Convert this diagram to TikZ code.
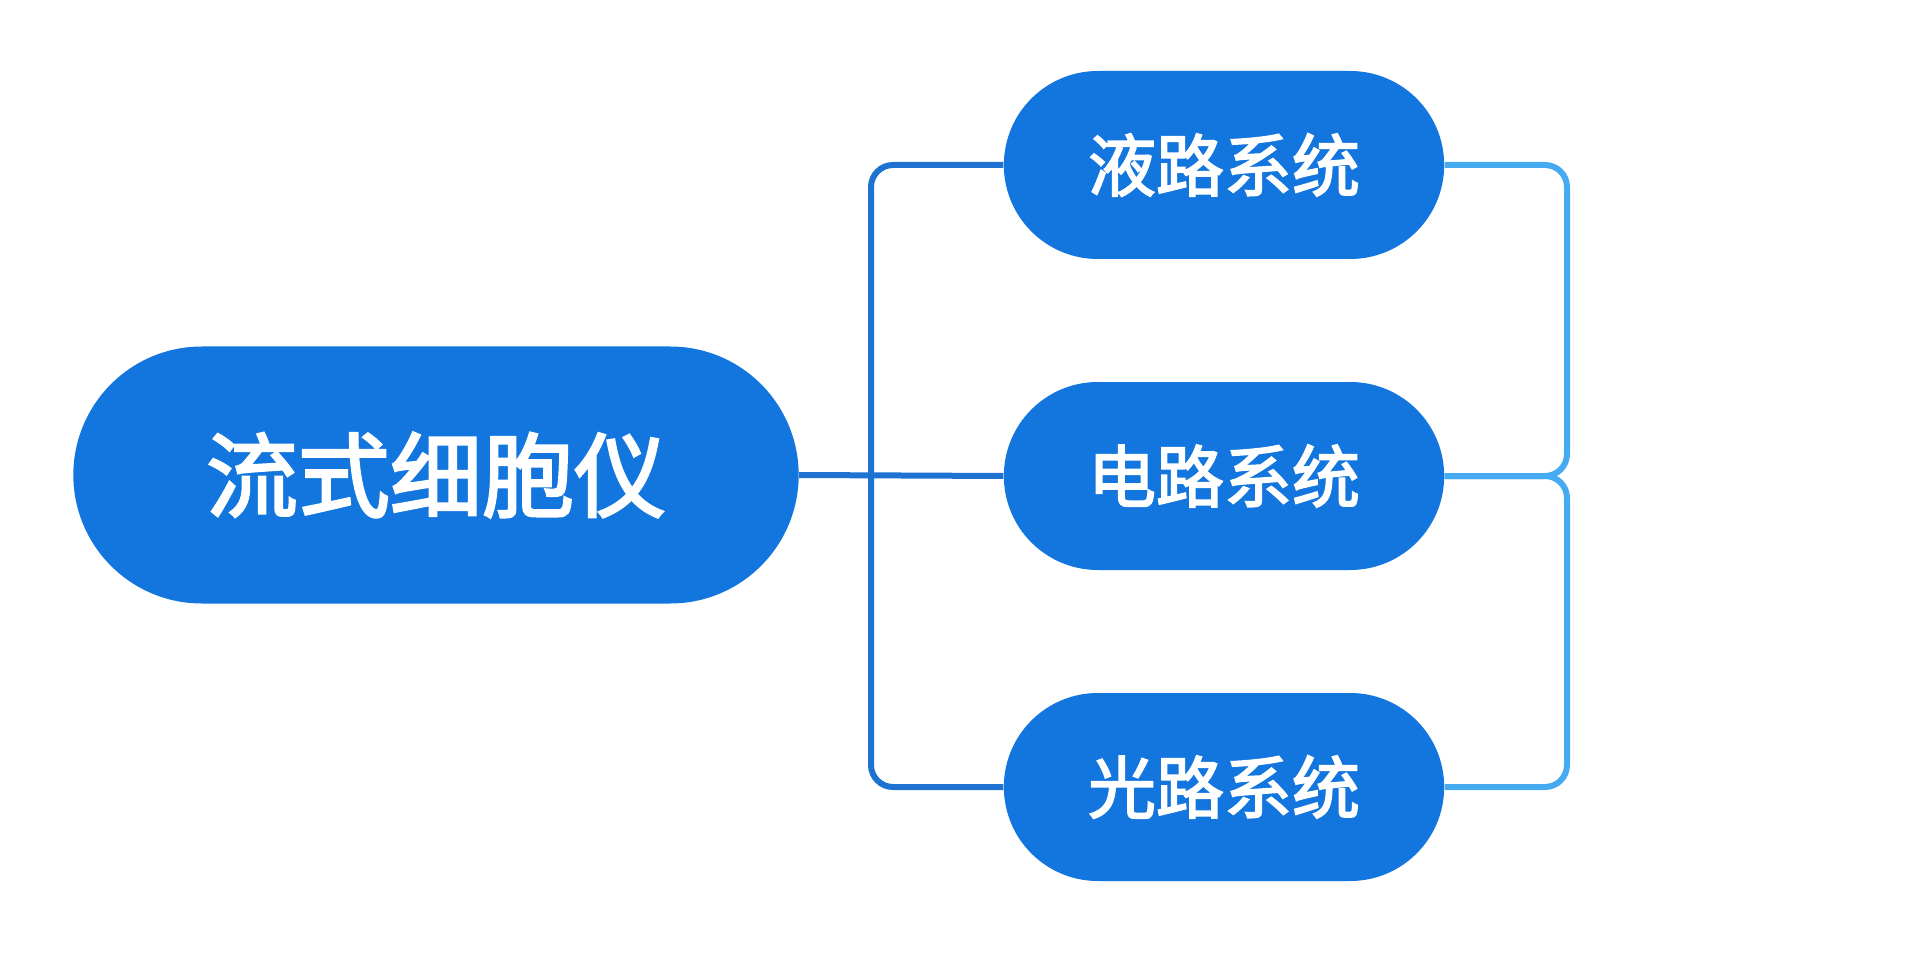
\documentclass[tikz,border=0pt]{standalone}
\usepackage{fontspec}
\usetikzlibrary{shapes.misc}
\newfontfamily\cjk{Noto Sans CJK SC}[AutoFakeBold=2.5]
\definecolor{pillblue}{RGB}{18,118,222}
\definecolor{linkblue}{RGB}{30,115,210}
\definecolor{lightlink}{RGB}{70,170,240}
\tikzset{every picture/.style={line width=0.75pt}}
\begin{document}
\begin{tikzpicture}[x=1pt,y=-1pt,
  pill/.style={rounded rectangle, fill=pillblue, text=white, font=\cjk\bfseries},
  link/.style={draw=linkblue, line width=6pt, rounded corners=22pt}]
\useasboundingbox (0,0) rectangle (1919,957);
\fill[white] (0,0) rectangle (1919,957);

% Main node
\node[pill, minimum width=732pt, minimum height=257pt, font=\cjk\bfseries\fontsize{92}{106}\selectfont] (main) at (436,475) {流式细胞仪};
% Child nodes
\node[pill, minimum width=447pt, minimum height=188pt, font=\cjk\bfseries\fontsize{68}{80}\selectfont] (liquid) at (1224,165) {液路系统};
\node[pill, minimum width=447pt, minimum height=188pt, font=\cjk\bfseries\fontsize{68}{80}\selectfont] (circuit) at (1224,476) {电路系统};
\node[pill, minimum width=447pt, minimum height=188pt, font=\cjk\bfseries\fontsize{68}{80}\selectfont] (optic) at (1224,787) {光路系统};

% Left bracket
\coordinate (bl) at (871,475);
\draw[link] (main.east) -- (circuit.west);
\draw[link] (liquid.west) -| (bl) |- (optic.west);

% Right bracket
\coordinate (br) at (1567,476);
\draw[link, draw=lightlink] (liquid.east) -| (br) -- (circuit.east);
\draw[link, draw=lightlink] (optic.east) -| (br) -- (circuit.east);
\end{tikzpicture}
\end{document}
